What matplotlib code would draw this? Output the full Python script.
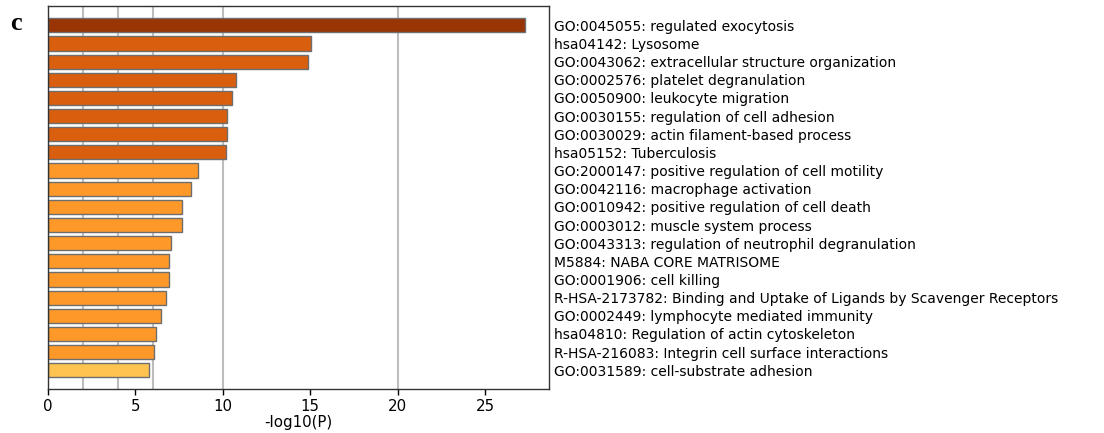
import matplotlib as mpl
mpl.use('Agg')
import matplotlib.pyplot as plt
import numpy as np

# enrichment terms, top to bottom
terms = [
    'GO:0045055: regulated exocytosis',
    'hsa04142: Lysosome',
    'GO:0043062: extracellular structure organization',
    'GO:0002576: platelet degranulation',
    'GO:0050900: leukocyte migration',
    'GO:0030155: regulation of cell adhesion',
    'GO:0030029: actin filament-based process',
    'hsa05152: Tuberculosis',
    'GO:2000147: positive regulation of cell motility',
    'GO:0042116: macrophage activation',
    'GO:0010942: positive regulation of cell death',
    'GO:0003012: muscle system process',
    'GO:0043313: regulation of neutrophil degranulation',
    'M5884: NABA CORE MATRISOME',
    'GO:0001906: cell killing',
    'R-HSA-2173782: Binding and Uptake of Ligands by Scavenger Receptors',
    'GO:0002449: lymphocyte mediated immunity',
    'hsa04810: Regulation of actin cytoskeleton',
    'R-HSA-216083: Integrin cell surface interactions',
    'GO:0031589: cell-substrate adhesion',
]
neg_log_p = [27.27, 15.05, 14.88, 10.74, 10.55, 10.25, 10.24, 10.17, 8.61, 8.17,
             7.66, 7.66, 7.06, 6.95, 6.91, 6.74, 6.47, 6.17, 6.07, 5.81]
grid_x = [2, 4, 6, 10, 20]


def bar_color(v):
    """YlOrBr-style shading by significance."""
    if v > 20:
        return '#993404'
    if v > 10:
        return '#d95f0e'
    if v > 6:
        return '#fe9929'
    return '#fec44f'


n = len(terms)
ypos = np.arange(n)[::-1]
colors = [bar_color(v) for v in neg_log_p]

fig = plt.figure(figsize=(11.04, 4.33), dpi=100)
ax = fig.add_axes([0.0432, 0.1016, 0.4540, 0.8845])

for g in grid_x:
    ax.axvline(g, color='#bdbdbd', lw=1.5, zorder=0)

ax.barh(ypos, neg_log_p, height=0.78, color=colors, edgecolor='#6e6e6e',
        linewidth=1.0, zorder=2)

ax.set_xlim(0, max(neg_log_p) * 1.05)
ax.set_ylim(-1.03, n + 0.06)
ax.set_xticks([0, 5, 10, 15, 20, 25])
ax.set_xlabel('-log10(P)', fontsize=10.8, labelpad=1)
ax.tick_params(axis='x', labelsize=10.8, length=4, width=1, pad=3)

ax.yaxis.tick_right()
ax.set_yticks(ypos)
ax.set_yticklabels(terms, fontsize=10)
ax.tick_params(axis='y', length=0, pad=4)

for s in ax.spines.values():
    s.set_color('#333333')
    s.set_linewidth(1.0)

fig.text(0.009, 0.945, 'c', fontsize=19, fontweight='bold',
         family='Liberation Serif', va='center', ha='left')

fig.savefig('out.png', dpi=100)
